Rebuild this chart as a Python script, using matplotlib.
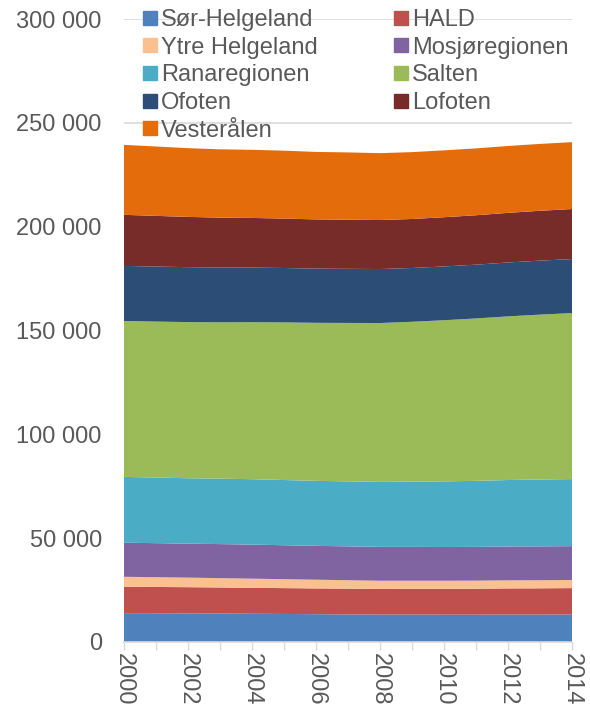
import matplotlib
matplotlib.use('Agg')
import matplotlib.pyplot as plt
from matplotlib.lines import Line2D
import numpy as np

# Data
years = list(range(2000, 2015))
regions = ['Sør-Helgeland', 'HALD', 'Ytre Helgeland', 'Mosjøregionen', 'Ranaregionen',
           'Salten', 'Ofoten', 'Lofoten', 'Vesterålen']
sor_helgeland = [13900, 13850, 13800, 13700, 13600, 13500, 13400, 13300, 13200, 13200, 13150, 13150, 13200, 13200, 13250]
hald = [12700, 12650, 12600, 12550, 12500, 12450, 12400, 12400, 12350, 12400, 12450, 12500, 12600, 12650, 12700]
ytre_helgeland = [4800, 4700, 4600, 4500, 4400, 4300, 4200, 4050, 3950, 3900, 3900, 3900, 3900, 3900, 3900]
mosjo = [16400, 16400, 16350, 16400, 16400, 16350, 16300, 16300, 16300, 16300, 16250, 16250, 16300, 16300, 16300]
rana = [31700, 31600, 31500, 31500, 31500, 31400, 31300, 31300, 31300, 31400, 31600, 31800, 32000, 32200, 32300]
salten = [75100, 75100, 75200, 75300, 75600, 75900, 76100, 76300, 76500, 77000, 77600, 78200, 78800, 79400, 79950]
ofoten = [26500, 26500, 26450, 26400, 26300, 26200, 26100, 26050, 26000, 25900, 25900, 25900, 25950, 26000, 26000]
lofoten = [24600, 24400, 24200, 24000, 23900, 23800, 23700, 23650, 23600, 23600, 23700, 23800, 23900, 24000, 24100]
vesteralen = [33700, 33400, 33100, 32900, 32800, 32700, 32500, 32400, 32200, 32200, 32200, 32200, 32200, 32200, 32200]

colors = ['#4F81BD', '#C0504D', '#FAC090', '#8064A2', '#4BACC6',
          '#9BBB59', '#2C4D75', '#772C2A', '#E46C0A']

plt.rcParams['font.family'] = ['Liberation Sans', 'DejaVu Sans']
text_color = '#595959'
grid_color = '#D9D9D9'

fig = plt.figure(figsize=(5.9, 7.11), dpi=100)
ax = fig.add_axes([124 / 590, 69 / 711, 448 / 590, 623 / 711])

series = [sor_helgeland, hald, ytre_helgeland, mosjo, rana, salten, ofoten, lofoten, vesteralen]
ax.stackplot(years, *series, colors=colors, labels=regions, linewidth=0)

ax.set_xlim(2000, 2014)
ax.set_ylim(0, 300000)
ax.set_yticks(np.arange(0, 300001, 50000))
ax.set_yticklabels(['{:,}'.format(v).replace(',', ' ') for v in range(0, 300001, 50000)])
ax.yaxis.grid(True, color=grid_color, linewidth=1.2)
ax.set_axisbelow(True)

ax.set_xticks(years)
ax.set_xticklabels([str(y) if y % 2 == 0 else '' for y in years], rotation=270)

for s in ['top', 'right', 'left']:
    ax.spines[s].set_visible(False)
ax.spines['bottom'].set_color(grid_color)
ax.spines['bottom'].set_linewidth(1.2)
ax.tick_params(axis='y', length=0, pad=16, labelsize=17, labelcolor=text_color)
ax.tick_params(axis='x', length=6, width=1, color=grid_color, pad=2,
               labelsize=17, labelcolor=text_color)

# Legend: rad for rad, to kolonner (matplotlib fyller kolonnevis)
order = list(range(0, 9, 2)) + list(range(1, 9, 2))
handles = [Line2D([], [], linestyle='none', marker='s', markersize=9.5,
                  markerfacecolor=colors[i], markeredgecolor=colors[i]) for i in order]
labels = [regions[i] for i in order]
leg = fig.legend(handles, labels, ncol=2, loc='upper left',
                 bbox_to_anchor=(143 / 590, 1 - 9 / 711), frameon=False,
                 fontsize=17, labelcolor=text_color, handlelength=0.6,
                 handletextpad=0.15, labelspacing=0.24, columnspacing=3.25,
                 borderaxespad=0, borderpad=0)

fig.savefig('out.png', dpi=100)
